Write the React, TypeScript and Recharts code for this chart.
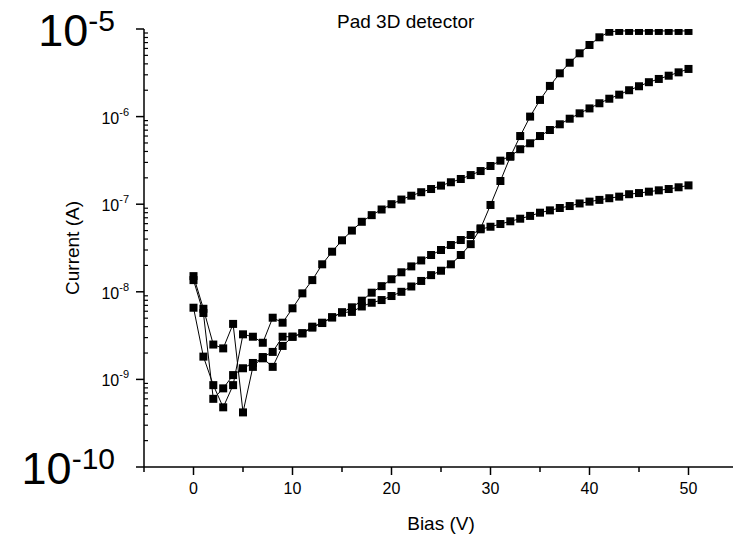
import { LineChart, Line, XAxis, YAxis, Label } from 'recharts'

// bias steps (V)
const bias = Array.from({ length: 51 }, (_, i) => i)

// three sweeps of the pad detector, current in A
const sweepSteep = [
  1.51e-8, 6.4e-9, 2.5e-9, 2.26e-9, 4.3e-9, 4.2e-10, 1.39e-9, 1.8e-9, 2.06e-9, 3.07e-9,
  3.07e-9, 3.36e-9, 4.0e-9, 4.4e-9, 5.1e-9, 5.8e-9, 5.9e-9, 6.8e-9, 7.5e-9, 8.05e-9,
  8.95e-9, 1.0e-8, 1.15e-8, 1.33e-8, 1.55e-8, 1.74e-8, 2.06e-8, 2.63e-8, 3.5e-8, 5.3e-8,
  9.8e-8, 1.84e-7, 3.48e-7, 6.0e-7, 1.0e-6, 1.55e-6, 2.24e-6, 3.12e-6, 4.12e-6, 5.28e-6,
  6.57e-6, 8.04e-6, 9.3e-6, 9.5e-6, 9.5e-6, 9.5e-6, 9.5e-6, 9.5e-6, 9.5e-6, 9.5e-6, 9.5e-6,
]
const sweepMid = [
  6.58e-9, 1.82e-9, 8.6e-10, 4.8e-10, 8.6e-10, 3.27e-9, 3.07e-9, 2.62e-9, 5.06e-9, 4.44e-9,
  6.48e-9, 9.6e-9, 1.36e-8, 2.06e-8, 2.87e-8, 3.87e-8, 5.0e-8, 6.3e-8, 7.5e-8, 8.7e-8,
  1.0e-7, 1.13e-7, 1.25e-7, 1.37e-7, 1.49e-7, 1.63e-7, 1.78e-7, 1.94e-7, 2.15e-7, 2.39e-7,
  2.73e-7, 3.14e-7, 3.55e-7, 4.24e-7, 4.96e-7, 6.0e-7, 7.03e-7, 8.17e-7, 9.46e-7, 1.09e-6,
  1.24e-6, 1.42e-6, 1.6e-6, 1.78e-6, 2.0e-6, 2.22e-6, 2.47e-6, 2.69e-6, 2.93e-6, 3.2e-6, 3.5e-6,
]
const sweepLow = [
  1.36e-8, 5.73e-9, 6.0e-10, 7.9e-10, 1.12e-9, 1.34e-9, 1.54e-9, 1.74e-9, 1.39e-9, 2.41e-9,
  3.07e-9, 3.36e-9, 3.9e-9, 4.44e-9, 5.12e-9, 5.83e-9, 6.65e-9, 7.92e-9, 9.77e-9, 1.16e-8,
  1.39e-8, 1.67e-8, 1.95e-8, 2.28e-8, 2.63e-8, 3.0e-8, 3.42e-8, 3.9e-8, 4.45e-8, 5.17e-8,
  5.53e-8, 5.94e-8, 6.38e-8, 6.83e-8, 7.35e-8, 8.0e-8, 8.5e-8, 9.05e-8, 9.53e-8, 1.02e-7,
  1.07e-7, 1.12e-7, 1.17e-7, 1.22e-7, 1.3e-7, 1.34e-7, 1.39e-7, 1.44e-7, 1.49e-7, 1.56e-7, 1.64e-7,
]

const xTicks = [-5, 0, 5, 10, 15, 20, 25, 30, 35, 40, 45, 50, 55]
const yDecades = [-10, -9, -8, -7, -6, -5]

const yTicks: number[] = []
yDecades.forEach((d, i) => {
  if (i === yDecades.length - 1) {
    yTicks.push(Math.pow(10, d))
    return
  }
  for (let k = 1; k <= 9; k++) yTicks.push(k * Math.pow(10, d))
})

const rows = bias.map((v, i) => ({
  v,
  steep: sweepSteep[i],
  mid: sweepMid[i],
  low: sweepLow[i],
}))

const FONT = '"Liberation Sans", Arial, Helvetica, sans-serif'

function SquareDot(props: any) {
  const { cx, cy } = props
  if (cx == null || cy == null) return null
  return <rect x={cx - 4} y={cy - 4} width={8} height={8} fill="#000" />
}

function XTick(props: any) {
  const { x, y, payload } = props
  const v = payload.value
  const major = v % 10 === 0
  return (
    <g>
      <line x1={x} x2={x} y1={y} y2={y + (major ? 8 : 5)} stroke="#000" strokeWidth={1.5} />
      {major && (
        <text x={x} y={y + 27} textAnchor="middle" fontSize={16} fontFamily={FONT} fill="#000">
          {v}
        </text>
      )}
    </g>
  )
}

function YTick(props: any) {
  const { x, y, payload } = props
  const v = payload.value
  const exp = Math.round(Math.log10(v))
  const major = Math.abs(v / Math.pow(10, exp) - 1) < 1e-6
  if (!major) {
    return <line x1={x} x2={x + 4} y1={y} y2={y} stroke="#000" strokeWidth={1.2} />
  }
  const big = exp === -5 || exp === -10
  return (
    <g>
      <line x1={x - 8} x2={x} y1={y} y2={y} stroke="#000" strokeWidth={1.5} />
      {big ? (
        <text x={x - 29} y={y + 17} textAnchor="end" fontSize={45} fontFamily={FONT} fill="#000">
          10<tspan dy={-15} fontSize={30}>{exp}</tspan>
        </text>
      ) : (
        <text x={x - 15} y={y + 7} textAnchor="end" fontSize={16} fontFamily={FONT} fill="#000">
          10<tspan dy={-8} fontSize={11}>{exp}</tspan>
        </text>
      )}
    </g>
  )
}

export default function App() {
  return (
    <div
      style={{
        position: 'absolute',
        left: 0,
        top: 0,
        width: 733,
        height: 538,
        overflow: 'hidden',
        background: '#fff',
        fontFamily: FONT,
      }}
    >
      <div
        style={{
          position: 'absolute',
          left: 337,
          top: 11,
          fontSize: 19,
          color: '#000',
          whiteSpace: 'nowrap',
          zIndex: 2,
        }}
      >
        Pad 3D detector
      </div>
      <LineChart width={740} height={538} data={rows} margin={{ top: 29, right: 2, bottom: 0, left: 0 }}>
        <XAxis
          dataKey="v"
          type="number"
          domain={[-5, 55]}
          ticks={xTicks}
          interval={0}
          tick={(p: any) => <XTick {...p} />}
          tickLine={false}
          tickSize={0}
          tickMargin={0}
          axisLine={{ stroke: '#000', strokeWidth: 1.5 }}
          height={71}
        >
          <Label
            content={(p: any) => (
              <text
                x={p.viewBox.x + p.viewBox.width / 2}
                y={530}
                textAnchor="middle"
                fontSize={19}
                fontFamily={FONT}
                fill="#000"
              >
                Bias (V)
              </text>
            )}
          />
        </XAxis>
        <YAxis
          type="number"
          scale="log"
          domain={[1e-10, 1e-5]}
          allowDataOverflow
          ticks={yTicks}
          interval={0}
          tick={(p: any) => <YTick {...p} />}
          tickLine={false}
          tickSize={0}
          tickMargin={0}
          axisLine={{ stroke: '#000', strokeWidth: 1.5 }}
          width={144}
        >
          <Label
            content={(p: any) => {
              const cy = p.viewBox.y + p.viewBox.height / 2
              return (
                <text
                  x={79}
                  y={cy}
                  transform={`rotate(-90 79 ${cy})`}
                  textAnchor="middle"
                  fontSize={19}
                  fontFamily={FONT}
                  fill="#000"
                >
                  Current (A)
                </text>
              )
            }}
          />
        </YAxis>
        <Line dataKey="low" stroke="#000" strokeWidth={1} dot={<SquareDot />} isAnimationActive={false} />
        <Line dataKey="mid" stroke="#000" strokeWidth={1} dot={<SquareDot />} isAnimationActive={false} />
        <Line dataKey="steep" stroke="#000" strokeWidth={1} dot={<SquareDot />} isAnimationActive={false} />
      </LineChart>
    </div>
  )
}
